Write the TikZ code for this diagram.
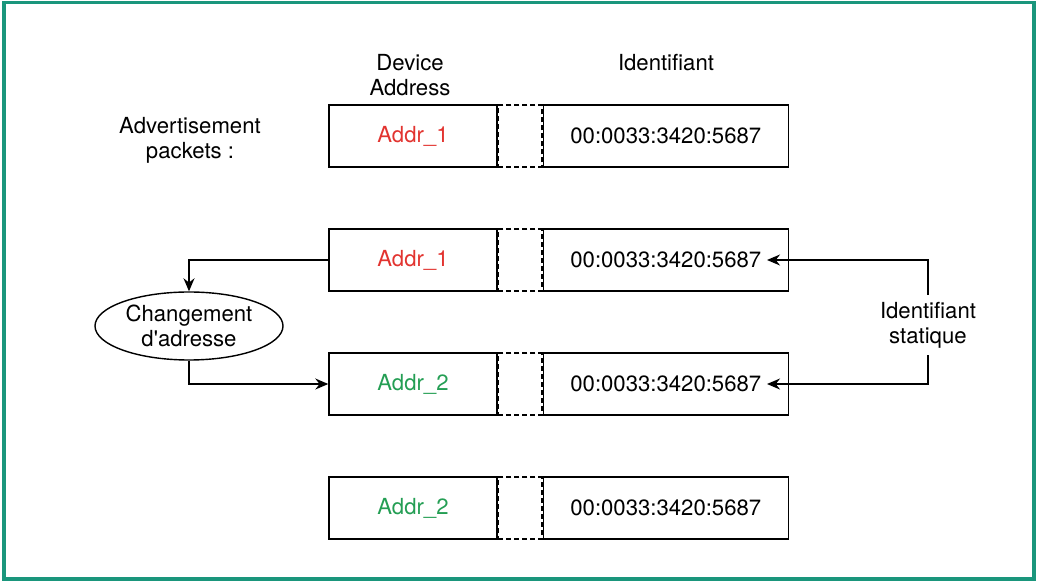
\documentclass[tikz,border=0pt]{standalone}
\usepackage{fontspec}
\setmainfont{TeX Gyre Heros}
\usepackage{xcolor}
\usepackage{tikz}
\usetikzlibrary{shapes.geometric, arrows.meta, positioning}

\definecolor{addrred}{RGB}{226,52,48}
\definecolor{addrgreen}{RGB}{36,158,84}
\definecolor{framegreen}{RGB}{26,150,124}
\newcommand{\diagfont}{\fontsize{12.6}{14.2}\selectfont}

\begin{document}
\begin{tikzpicture}[
        node distance=1.212cm and 0cm,
        field/.style={draw, line width=0.8pt, minimum height=1.24cm, minimum width=3.36cm, inner sep=0pt, font=\diagfont},
        gapbox/.style={draw, line width=0.8pt, dash pattern=on 1mm off 0.6mm, minimum height=1.24cm, minimum width=0.87cm, inner sep=0pt},
        idbox/.style={draw, line width=0.8pt, minimum height=1.24cm, minimum width=4.9cm, inner sep=0pt, font=\diagfont},
        oval/.style={draw, ellipse, line width=0.8pt, minimum width=3.76cm, minimum height=1.36cm, inner sep=0pt, font=\diagfont, align=center},
        lbl/.style={font=\diagfont, align=center},
        >={Stealth[length=2.6mm, width=2.2mm]}
    ]
        \useasboundingbox (0,0) rectangle (20.74,-11.64);
        \draw[framegreen, line width=0.07cm] (0.08,-0.05) rectangle (20.68,-11.58);

        % headers
        \node[lbl] (devhead) at (8.2,-1.5) {Device\\Address};
        \node[lbl] (idhead) at (13.32,-1.26) {Identifiant};
        \node[lbl] (adv) at (3.8,-2.8) {Advertisement\\packets :};

        % packets
        \node[field, text=addrred] (r1a) at (8.26,-2.72) {Addr\_1};
        \node[gapbox, right=of r1a] (r1b) {};
        \node[idbox, right=of r1b] (r1c) {00:0033:3420:5687};

        \node[field, below=of r1a, text=addrred] (r2a) {Addr\_1};
        \node[gapbox, right=of r2a] (r2b) {};
        \node[idbox, right=of r2b] (r2c) {00:0033:3420:5687};

        \node[field, below=of r2a, text=addrgreen] (r3a) {Addr\_2};
        \node[gapbox, right=of r3a] (r3b) {};
        \node[idbox, right=of r3b] (r3c) {00:0033:3420:5687};

        \node[field, below=of r3a, text=addrgreen] (r4a) {Addr\_2};
        \node[gapbox, right=of r4a] (r4b) {};
        \node[idbox, right=of r4b] (r4c) {00:0033:3420:5687};

        % side notes
        \node[oval] (chg) at (3.78,-6.52) {Changement\\d\textquotesingle adresse};
        \node[lbl, inner sep=4pt] (stat) at (18.56,-6.5) {Identifiant\\statique};

        \draw[->, line width=0.8pt] (r2a.west) -| (chg.north);
        \draw[->, line width=0.8pt] (chg.south) |- (r3a.west);
        \draw[->, line width=0.8pt] (stat.north) |- ([xshift=-4.4mm]r2c.east);
        \draw[->, line width=0.8pt] (stat.south) |- ([xshift=-4.4mm]r3c.east);
    \end{tikzpicture}
\end{document}
